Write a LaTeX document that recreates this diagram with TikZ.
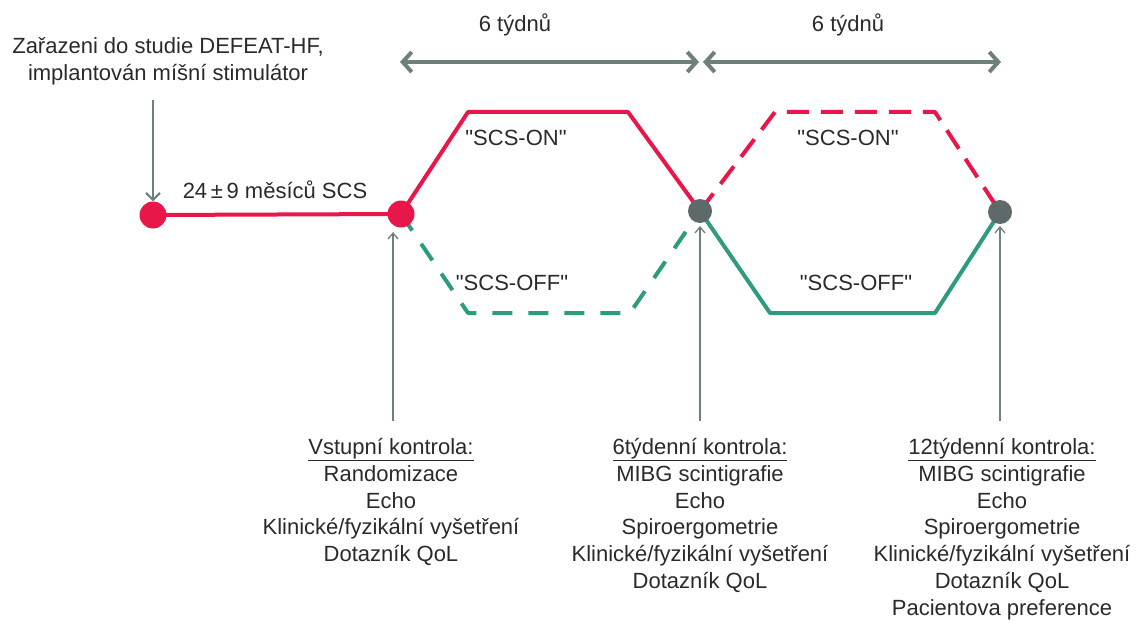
\documentclass[tikz,border=0pt]{standalone}
\usepackage{fontspec}
\setmainfont{Liberation Sans}[Ligatures=TeXOff]
\usetikzlibrary{arrows.meta}
\definecolor{scsred}{HTML}{E8174A}
\definecolor{scsgreen}{HTML}{2E9A7E}
\definecolor{dotgray}{HTML}{5E6A6A}
\definecolor{arrgray}{HTML}{6F807B}
\definecolor{txtgray}{HTML}{2A2A2A}
\begin{document}
\begin{tikzpicture}[x=1pt,y=-1pt,
  lbl/.style={font=\fontsize{22}{26.8}\selectfont, text=txtgray, inner sep=0pt},
  col/.style={lbl, align=center, anchor=north},
  redline/.style={draw=scsred, line width=4pt, line join=round},
  greenline/.style={draw=scsgreen, line width=4pt, line join=round},
  reddash/.style={redline, dash pattern=on 22pt off 12pt},
  greendash/.style={greenline, dash pattern=on 20pt off 16pt},
  dblarrow/.style={draw=arrgray, line width=4pt, {Straight Barb[length=9pt,width=20pt]}-{Straight Barb[length=9pt,width=20pt]}},
  thinarrow/.style={draw=arrgray, line width=1.3pt, -{Straight Barb[length=6pt,width=10pt]}},
  dotred/.style={circle, fill=scsred, minimum size=27pt, inner sep=0pt},
  dotgrey/.style={circle, fill=dotgray, minimum size=24pt, inner sep=0pt}]
\useasboundingbox (0,0) rectangle (1141,623);

% key points
\coordinate (c1) at (153,215);
\coordinate (c2) at (401,214);
\coordinate (c3) at (700,211);
\coordinate (c4) at (1000,212);
\coordinate (on1a) at (468,112); \coordinate (on1b) at (628,112);
\coordinate (off1a) at (468,313); \coordinate (off1b) at (630,313);
\coordinate (on2a) at (775,112); \coordinate (on2b) at (935,112);
\coordinate (off2a) at (770,313); \coordinate (off2b) at (935,313);

% timeline paths
\draw[redline] (c1) -- (c2);
\draw[redline] (c2) -- (on1a) -- (on1b) -- (c3);
\draw[greendash] (c2) -- (off1a) -- (off1b) -- (c3);
\draw[reddash] (c3) -- (on2a) -- (on2b) -- (c4);
\draw[greenline] (c3) -- (off2a) -- (off2b) -- (c4);

% dots
\node[dotred] (d1) at (c1) {};
\node[dotred] (d2) at (c2) {};
\node[dotgrey] (d3) at (c3) {};
\node[dotgrey] (d4) at (c4) {};

% top duration arrows
\coordinate (a1) at (400,62); \coordinate (a2) at (699,62);
\coordinate (a3) at (703,62); \coordinate (a4) at (1001,62);
\draw[dblarrow] (a1) -- (a2);
\draw[dblarrow] (a3) -- (a4);
\node[lbl] (w1) at (515,25) {6 týdnů};
\node[lbl] (w2) at (848,25) {6 týdnů};

% phase labels
\node[lbl] (on1) at (516,138) {"SCS-ON"};
\node[lbl] (on2) at (848,138) {"SCS-ON"};
\node[lbl] (off1) at (512,283) {"SCS-OFF"};
\node[lbl] (off2) at (856,283) {"SCS-OFF"};

% start
\node[lbl, align=center] (start) at (168,61) {Zařazeni do studie DEFEAT-HF,\\implantován míšní stimulátor};
\coordinate (s0) at (153,100);
\draw[draw=arrgray, line width=2pt, -{Straight Barb[length=7pt,width=14pt]}] (s0) -- (d1.north);
\node[lbl] (dur) at (275,190) {24\,±\,9 měsíců SCS};

% bottom visits
\node[col] (v1) at (391,438) {\underline{Vstupní kontrola:}\\Randomizace\\Echo\\Klinické/fyzikální vyšetření\\Dotazník QoL};
\node[col] (v2) at (700,438) {\underline{6týdenní kontrola:}\\MIBG scintigrafie\\Echo\\Spiroergometrie\\Klinické/fyzikální vyšetření\\Dotazník QoL};
\node[col] (v3) at (1002,438) {\underline{12týdenní kontrola:}\\MIBG scintigrafie\\Echo\\Spiroergometrie\\Klinické/fyzikální vyšetření\\Dotazník QoL\\Pacientova preference};

\coordinate (b1) at (393,421); \coordinate (t1) at (393,232);
\coordinate (b2) at (700,421); \coordinate (t2) at (700,226);
\coordinate (b3) at (1000,421); \coordinate (t3) at (1000,226);
\draw[thinarrow] (b1) -- (t1);
\draw[thinarrow] (b2) -- (t2);
\draw[thinarrow] (b3) -- (t3);
\end{tikzpicture}
\end{document}
